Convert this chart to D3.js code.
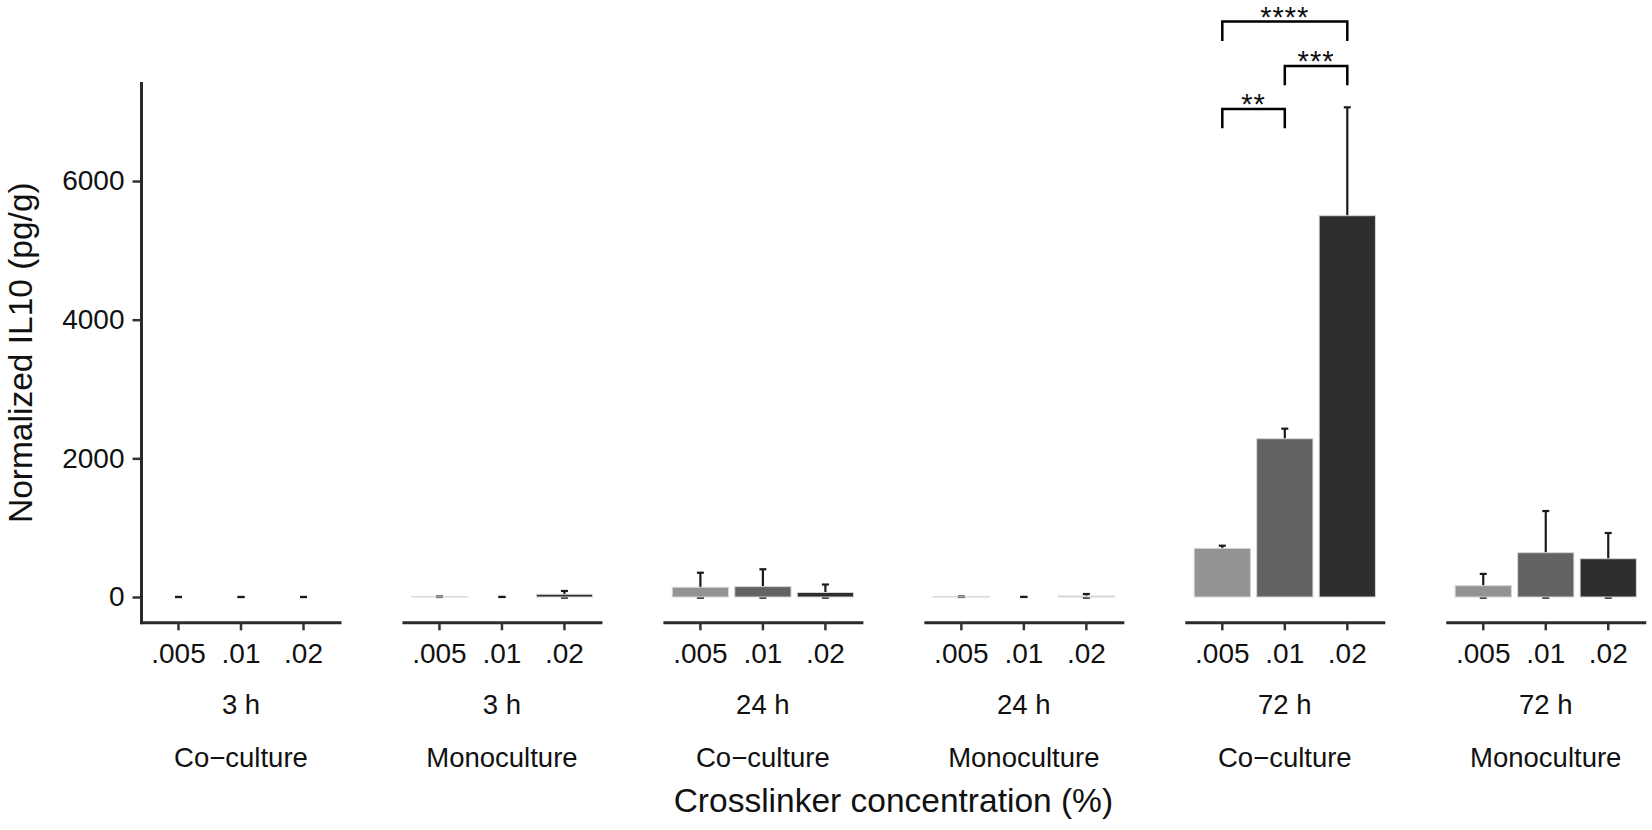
<!DOCTYPE html>
<html>
<head>
<meta charset="utf-8">
<script src="https://cdn.jsdelivr.net/npm/d3@7"></script>
<style>
  body { margin: 0; background: #fff; }
  text { font-family: "Liberation Sans", Arial, Helvetica, sans-serif; fill: #111; }
</style>
</head>
<body>
<div id="chart"></div>
<script>
// data
var facetTimes = ["3 h", "3 h", "24 h", "24 h", "72 h", "72 h"];
var facetCultures = ["Co−culture", "Monoculture", "Co−culture", "Monoculture", "Co−culture", "Monoculture"];
var concentrations = [".005", ".01", ".02"];
var meanIL10 = [[0, 0, 0], [3, 0, 39], [140, 150, 65], [3, 0, 14], [702, 2283, 5500], [163, 639, 552]];
var errHigh  = [[0, 0, 0], [6, 1, 87], [350, 400, 180], [6, 1, 43], [740, 2428, 7063], [333, 1240, 923]];
var errLow   = [[0, 0, 0], [0, 0, -10], [-10, -10, -10], [0, 0, -10], [660, 2140, 3940], [-10, -10, -10]];
var yTicks = [0, 2000, 4000, 6000];

// significance brackets (72 h co-culture panel)
var sigFacet = 4;
var sigPairs = [[".005", ".01"], [".01", ".02"], [".005", ".02"]];
var sigLabels = ["**", "***", "****"];
var sigY = [7040, 7660, 8300];
var sigDrop = 280;

var W = 1652, H = 830;
var svg = d3.select("#chart").append("svg").attr("width", W).attr("height", H);

var y = d3.scaleLinear().domain([-365, 7414]).range([622.3, 83]);
var fx = d3.scaleBand().domain(d3.range(facetTimes.length)).range([141, 1645.75]).paddingInner(0.2336).paddingOuter(0);
var x = d3.scaleBand().domain(concentrations).range([0, fx.bandwidth()]).paddingInner(0.1).paddingOuter(0.15);
var fill = d3.scaleOrdinal().domain(concentrations).range(["#939393", "#636363", "#2e2e2e"]);

// y axis
var yAx = svg.append("g")
  .attr("transform", "translate(141,0)")
  .call(d3.axisLeft(y).tickValues(yTicks).tickSize(8.5).tickSizeOuter(0).tickPadding(8).tickFormat(d3.format("d")));
yAx.attr("font-size", null).attr("font-family", null);
yAx.select(".domain").attr("stroke", "#2a2a2a").attr("stroke-width", 3).attr("stroke-linecap", "square");
yAx.selectAll(".tick line").attr("stroke", "#333").attr("stroke-width", 2.5);
yAx.selectAll(".tick text").attr("font-size", 28).attr("fill", "#111");

// panels
var panel = svg.selectAll("g.panel")
  .data(facetTimes)
  .join("g")
  .attr("class", "panel")
  .attr("transform", function(d, i) { return "translate(" + fx(i) + ",0)"; });

panel.each(function(d, i) {
  var g = d3.select(this);
  var rows = concentrations.map(function(c, j) {
    return {c: c, m: meanIL10[i][j], lo: errLow[i][j], hi: errHigh[i][j]};
  });

  // error bars go under the bars
  var eb = g.append("g").attr("stroke", "#1a1a1a").attr("stroke-width", 2.2);
  rows.forEach(function(r) {
    var cx = x(r.c) + x.bandwidth() / 2;
    eb.append("line").attr("x1", cx).attr("x2", cx).attr("y1", y(r.lo)).attr("y2", y(r.hi));
    eb.append("line").attr("x1", cx - 3.5).attr("x2", cx + 3.5).attr("y1", y(r.hi)).attr("y2", y(r.hi));
    eb.append("line").attr("x1", cx - 3.5).attr("x2", cx + 3.5).attr("y1", y(r.lo)).attr("y2", y(r.lo));
  });

  g.selectAll("rect.bar")
    .data(rows.filter(function(r) { return r.m > 0; }))
    .join("rect")
    .attr("class", "bar")
    .attr("x", function(r) { return x(r.c); })
    .attr("width", x.bandwidth())
    .attr("y", function(r) { return y(r.m); })
    .attr("height", function(r) { return y(0) - y(r.m); })
    .attr("fill", function(r) { return fill(r.c); })
    .attr("stroke", "#d6d6d6")
    .attr("stroke-width", 1);

  // x axis of this panel
  var xAx = g.append("g")
    .attr("transform", "translate(0,622.3)")
    .call(d3.axisBottom(x).tickSize(8).tickSizeOuter(0).tickPadding(12.5));
  xAx.attr("font-size", null).attr("font-family", null);
  xAx.select(".domain").attr("stroke", "#2a2a2a").attr("stroke-width", 3);
  xAx.selectAll(".tick line").attr("stroke", "#333").attr("stroke-width", 2.5);
  xAx.selectAll(".tick text").attr("font-size", 28).attr("fill", "#111");

  // nested labels
  g.append("text").attr("x", fx.bandwidth() / 2).attr("y", 714)
    .attr("text-anchor", "middle").attr("font-size", 27.5).text(facetTimes[i]);
  g.append("text").attr("x", fx.bandwidth() / 2).attr("y", 767)
    .attr("text-anchor", "middle").attr("font-size", 27.5).text(facetCultures[i]);
});

// significance brackets
var sg = svg.append("g").attr("transform", "translate(" + fx(sigFacet) + ",0)");
sigPairs.forEach(function(p, k) {
  var x1 = x(p[0]) + x.bandwidth() / 2, x2 = x(p[1]) + x.bandwidth() / 2;
  var top = y(sigY[k]), bot = y(sigY[k] - sigDrop);
  sg.append("path")
    .attr("d", "M" + x1 + "," + bot + "V" + top + "H" + x2 + "V" + bot)
    .attr("fill", "none").attr("stroke", "#000").attr("stroke-width", 2.5);
  sg.append("text")
    .attr("x", (x1 + x2) / 2).attr("y", top + 5)
    .attr("text-anchor", "middle").attr("font-size", 29).attr("fill", "#000")
    .attr("letter-spacing", 1)
    .text(sigLabels[k]);
});

// axis titles
svg.append("text")
  .attr("x", (fx(0) + fx(facetTimes.length - 1) + fx.bandwidth()) / 2)
  .attr("y", 812)
  .attr("text-anchor", "middle").attr("font-size", 33.5)
  .text("Crosslinker concentration (%)");

svg.append("text")
  .attr("transform", "translate(32," + (y.range()[0] + y.range()[1]) / 2 + ") rotate(-90)")
  .attr("text-anchor", "middle").attr("font-size", 33.5)
  .text("Normalized IL10 (pg/g)");
</script>
</body>
</html>
